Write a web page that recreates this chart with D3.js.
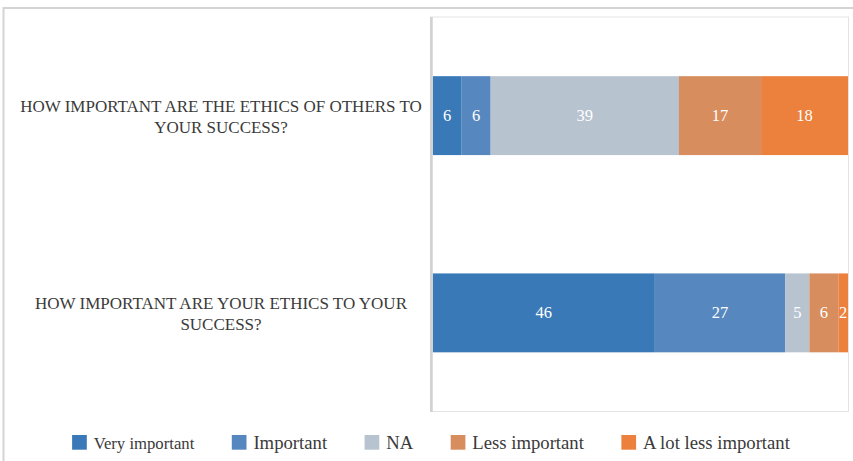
<!DOCTYPE html>
<html>
<head>
<meta charset="utf-8">
<script src="https://cdn.jsdelivr.net/npm/d3@7"></script>
<style>
  html, body { margin: 0; padding: 0; background: #ffffff; }
  svg { display: block; }
  text { font-family: "Liberation Serif", "Times New Roman", serif; }
</style>
</head>
<body>
<svg id="chart" width="853" height="461"></svg>
<script>
// Survey questions (top to bottom)
const questions = [
  "HOW IMPORTANT ARE THE ETHICS OF OTHERS TO YOUR SUCCESS?",
  "HOW IMPORTANT ARE YOUR ETHICS TO YOUR SUCCESS?"
];

// Answer categories, stacked left to right
const answers = ["Very important", "Important", "NA", "Less important", "A lot less important"];

// Number of responses per answer, one array per question
const othersEthics = [6, 6, 39, 17, 18];
const ownEthics    = [46, 27, 5, 6, 2];

const answerColors = ["#3979b7", "#5787bf", "#b8c3d0", "#d78d5d", "#ec803d"];

const rows = questions.map((q, i) => {
  const vals = [othersEthics, ownEthics][i];
  const row = { question: q };
  answers.forEach((a, j) => row[a] = vals[j]);
  return row;
});

const svg = d3.select("#chart");
const W = 853, H = 461;
svg.append("rect").attr("width", W).attr("height", H).attr("fill", "#fff");

// Outer chart frame (extends past the visible area on the right and bottom)
svg.append("rect")
  .attr("x", 3.5).attr("y", 8)
  .attr("width", W + 20).attr("height", H + 20)
  .attr("fill", "none").attr("stroke", "#d4d4d4").attr("stroke-width", 2);

const plot = { left: 432.7, right: 848, top: 17, bottom: 411.5 };

// Plot area border
svg.append("rect")
  .attr("x", plot.left - 2).attr("y", plot.top)
  .attr("width", plot.right - plot.left + 2.5).attr("height", plot.bottom - plot.top)
  .attr("fill", "none").attr("stroke", "#e4e4e4").attr("stroke-width", 1);

const stack = d3.stack().keys(answers);
const series = stack(rows);
const total = d3.max(rows, r => d3.sum(answers, a => r[a]));

const x = d3.scaleLinear().domain([0, total]).range([plot.left, plot.right]);
const y = d3.scaleBand().domain(questions).range([plot.top, plot.bottom]).padding(0);
const barH = y.bandwidth() * 0.4;
const barY = q => y(q) + (y.bandwidth() - barH) / 2;

const color = d3.scaleOrdinal().domain(answers).range(answerColors);

const groups = svg.append("g").selectAll("g")
  .data(series).join("g")
  .attr("fill", d => color(d.key));

groups.selectAll("rect")
  .data(d => d.map(p => ({ key: d.key, p })))
  .join("rect")
  .attr("x", d => x(d.p[0]))
  .attr("y", d => barY(d.p.data.question))
  .attr("width", d => x(d.p[1]) - x(d.p[0]))
  .attr("height", barH);

// Value labels inside each segment
const valueSize = 16.5;
groups.selectAll("text")
  .data(d => d.map(p => ({ key: d.key, p })))
  .join("text")
  .attr("x", d => (x(d.p[0]) + x(d.p[1])) / 2)
  .attr("y", d => barY(d.p.data.question) + barH / 2 + valueSize * 0.34)
  .attr("text-anchor", "middle")
  .attr("fill", "#ffffff")
  .attr("font-size", valueSize)
  .text(d => d.p[1] - d.p[0]);

// Category axis line
svg.append("line")
  .attr("x1", plot.left - 1.3).attr("x2", plot.left - 1.3)
  .attr("y1", plot.top).attr("y2", plot.bottom + 0.5)
  .attr("stroke", "#d2d2d2").attr("stroke-width", 2.7);

// Wrapped question labels
const labelSize = 17, labelCx = 221, lineH = 21, maxW = 412;
const labels = svg.append("g").attr("fill", "#3a3a3a").attr("font-size", labelSize);
questions.forEach(q => {
  const t = labels.append("text").attr("text-anchor", "middle");
  const words = q.split(" ");
  const lines = [];
  let cur = [];
  const probe = labels.append("text");
  words.forEach(w => {
    const test = cur.concat(w).join(" ");
    probe.text(test);
    if (probe.node().getComputedTextLength() > maxW && cur.length) {
      lines.push(cur.join(" "));
      cur = [w];
    } else cur.push(w);
  });
  lines.push(cur.join(" "));
  probe.remove();
  const cy = y(q) + y.bandwidth() / 2;
  const firstBase = cy - (lines.length - 1) * lineH / 2 + labelSize * 0.34 + 1;
  lines.forEach((ln, i) => {
    t.append("tspan").attr("x", labelCx).attr("y", firstBase + i * lineH).text(ln);
  });
});

// Legend
const legend = svg.append("g").attr("fill", "#3a3a3a");
const sq = 14.7, textOff = 21.6, itemGap = 37.5, legendCx = 431, legendTop = 435;
let cursor = 0;
answers.forEach((a, i) => {
  const g = legend.append("g");
  g.append("rect").attr("x", 0).attr("y", legendTop).attr("width", sq).attr("height", sq)
    .attr("fill", color(a));
  const txt = g.append("text").attr("x", textOff).attr("y", legendTop + 14)
    .attr("font-size", i === 0 ? 16.7 : 18.7).text(a);
  const w = textOff + txt.node().getComputedTextLength();
  g.attr("transform", `translate(${cursor},0)`);
  cursor += w + itemGap;
});
const legendW = cursor - itemGap;
legend.attr("transform", `translate(${legendCx - legendW / 2},0)`);
</script>
</body>
</html>
